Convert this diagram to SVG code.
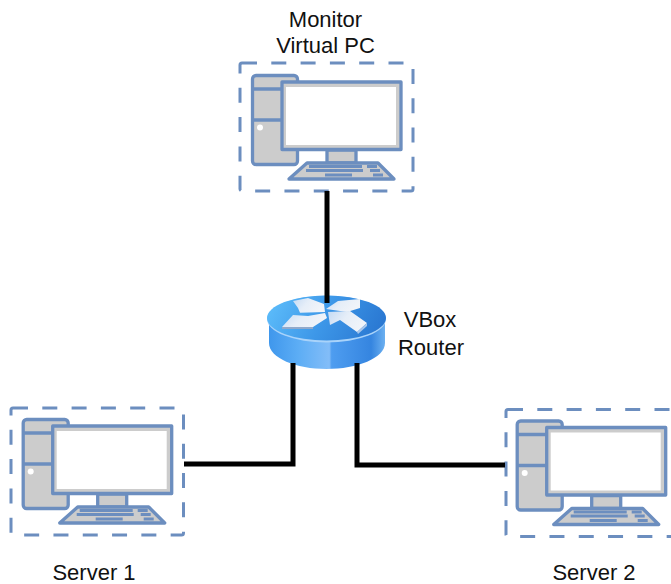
<svg xmlns="http://www.w3.org/2000/svg" xmlns:xlink="http://www.w3.org/1999/xlink" width="671" height="584" viewBox="0 0 671 584">
<style>
text{font-family:"Liberation Sans",Arial,sans-serif;font-size:22px;fill:#111;text-anchor:middle}
.box{fill:none;stroke:#6c8ebf;stroke-width:3;stroke-dasharray:15 14.3}
.p{fill:#ccc;stroke:#6c8ebf;stroke-width:3.300;stroke-linejoin:round}
.k{fill:none;stroke:#6c8ebf;stroke-width:2.800}
.w{fill:#fff}
.link{fill:none;stroke:#000;stroke-width:5;stroke-linejoin:miter}
</style>
<defs>
<linearGradient id="side" x1="0" x2="1" y1="0" y2="0">
<stop offset="0" stop-color="#3f97ec"/><stop offset="0.25" stop-color="#5cadf5"/><stop offset="0.52" stop-color="#83bdf8"/><stop offset="0.54" stop-color="#4e9df0"/><stop offset="0.88" stop-color="#3585e0"/><stop offset="1" stop-color="#6cb0f0"/>
</linearGradient>
<linearGradient id="top" x1="0" x2="1" y1="0.3" y2="0.5">
<stop offset="0" stop-color="#5cbcfa"/><stop offset="0.5" stop-color="#3d97e8"/><stop offset="1" stop-color="#2a78d2"/>
</linearGradient>
<linearGradient id="arr" x1="0" x2="1" y1="0" y2="0.4">
<stop offset="0" stop-color="#c4daf4"/><stop offset="0.5" stop-color="#e6eef8"/><stop offset="1" stop-color="#f1f4f9"/>
</linearGradient>
<g id="pc">
<rect class="p" x="252.500" y="75.500" width="45" height="89" rx="3.500"/>
<path class="p" d="M253 89H282M253 120H282" fill="none"/>
<circle class="w" cx="260" cy="127.500" r="3"/>
<rect class="p" x="327" y="150" width="29" height="13"/>
<rect class="p" x="282" y="82" width="119" height="67.500"/>
<rect class="w" x="286" y="87" width="110" height="58"/>
<path class="p" d="M307 163H378L394 179H289Z"/>
<path class="k" d="M309 166.500H362M367 166.500H377M306 170.500H363M370 170.500H380M325 175H352M373 175H383"/>
</g>
</defs>
<g id="monitor-pc">
<rect class="box" x="240" y="63" width="173" height="128" rx="2"/>
<use href="#pc" xlink:href="#pc"/>
<text x="325.500" y="27">Monitor</text>
<text x="325.500" y="53">Virtual PC</text>
</g>
<g id="router">
<path d="M269 320V343C269 358 296 369 326.500 369S385 358 385 343V320Z" fill="url(#side)"/>
<ellipse cx="326.500" cy="319" rx="59.500" ry="23.500" fill="#a9d3fa"/>
<ellipse cx="326.500" cy="318" rx="59.500" ry="22.500" fill="url(#top)"/>
<polygon points="293,301 308,298 324,304 325,312 300,312.700 298,308" fill="url(#arr)"/>
<polygon points="282,327 293,315 308,316 325,313 327,318 313,327 313,329 282,329" fill="url(#arr)"/>
<polygon points="282,327 313,327 313,329 282,329" fill="#8fa9cc"/>
<polygon points="326,309 338,301 360,299 360,308 347,312" fill="url(#arr)"/>
<polygon points="328,312 350,311 367,323 357,332 340,320 330,325" fill="url(#arr)"/>
<polygon points="357,332 367,323 367,326 358,334" fill="#a9c6ea"/>
<text x="430" y="327">VBox</text>
<text x="431" y="355">Router</text>
</g>
<g id="server-1">
<rect class="box" x="11" y="408" width="172.500" height="127" rx="2"/>
<use href="#pc" xlink:href="#pc" transform="translate(-229.300 344)"/>
<text x="94" y="580">Server 1</text>
</g>
<g id="server-2">
<rect class="box" x="506" y="409.500" width="173" height="127" rx="2"/>
<use href="#pc" xlink:href="#pc" transform="translate(264.700 345.500)"/>
<text x="594" y="580">Server 2</text>
</g>
<g id="connectors">
<path class="link" d="M327 191V303"/>
<path class="link" d="M184 464H293V363"/>
<path class="link" d="M357 363V465H505"/>
</g>
</svg>
